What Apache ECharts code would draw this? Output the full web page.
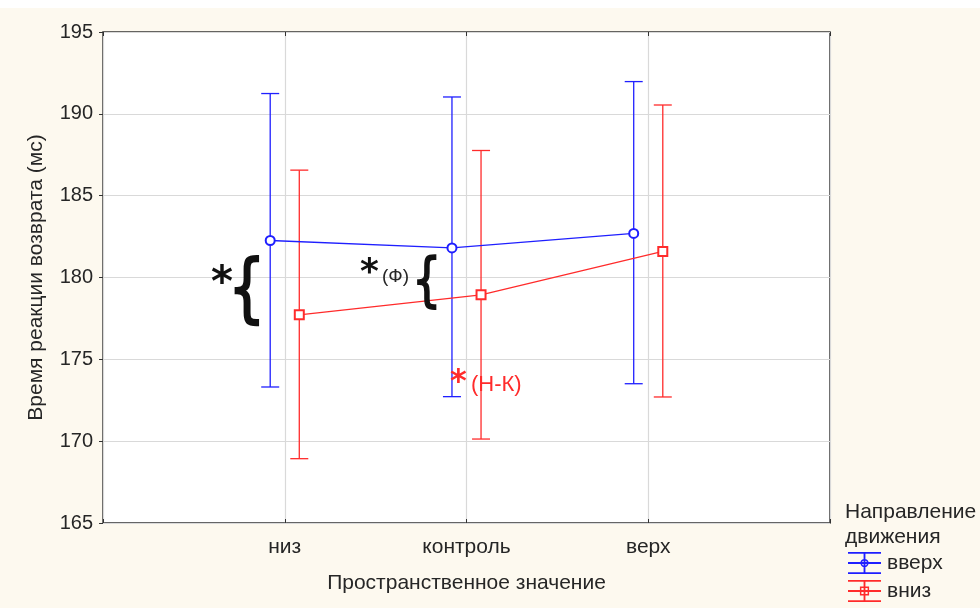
<!DOCTYPE html>
<html>
<head>
<meta charset="utf-8">
<script src="https://cdn.jsdelivr.net/npm/echarts@6/dist/echarts.min.js"></script>
<style>
  html, body { margin: 0; padding: 0; background: #fdf9ef; }
  #chart { width: 980px; height: 608px; }
</style>
</head>
<body>
<div id="chart"></div>
<script>
// категории по оси X (позиции 1..3 на шкале 0..4)
const categories = ['низ', 'контроль', 'верх'];
const seriesNames = ['вверх', 'вниз'];

// средние и границы доверительных интервалов
const upMean = [182.26, 181.81, 182.69];
const upLow = [173.31, 172.72, 173.51];
const upHigh = [191.24, 191.03, 191.97];

const downMean = [177.72, 178.94, 181.59];
const downLow = [168.93, 170.13, 172.7];
const downHigh = [186.56, 187.76, 190.54];

const BLUE = '#1f1fff';
const RED = '#ff2b2b';
const TXT = '#262626';
const OFFSET = 0.08;  // смещение серий от центра категории

const chart = echarts.init(document.getElementById('chart'));

const toLine = (mean, shift) => mean.map((v, i) => [i + 1 + shift, v]);
const toBars = (low, high, shift) => low.map((v, i) => [i + 1 + shift, v, high[i]]);

function renderErrBar(params, api) {
    const x = api.value(0);
    const top = api.coord([x, api.value(2)]);
    const bot = api.coord([x, api.value(1)]);
    const hw = 9;
    const style = { stroke: api.visual('color'), lineWidth: 1.3 };
    return {
        type: 'group',
        children: [
            { type: 'line', shape: { x1: top[0], y1: top[1], x2: bot[0], y2: bot[1] }, style },
            { type: 'line', shape: { x1: top[0] - hw, y1: top[1], x2: top[0] + hw, y2: top[1] }, style },
            { type: 'line', shape: { x1: bot[0] - hw, y1: bot[1], x2: bot[0] + hw, y2: bot[1] }, style }
        ]
    };
}

// значки легенды: три горизонтальные линии, вертикаль и маркер
const iconBase = 'path://M0,0H36V2H0Z M0,11H36V13H0Z M0,22H36V24H0Z M17,0H19V24H17Z ';
const iconCircle = iconBase + 'M22.5,12A4.5,4.5 0 1,1 13.5,12A4.5,4.5 0 1,1 22.5,12Z M20.8,12A2.8,2.8 0 1,0 15.2,12A2.8,2.8 0 1,0 20.8,12Z';
const iconSquare = iconBase + 'M13,7H23V17H13Z M14.6,8.6V15.4H21.4V8.6Z';

const font = 'Liberation Sans';

const option = {
    backgroundColor: '#fdf9ef',
    animation: false,
    textStyle: { fontFamily: font },
    grid: {
        left: 103, right: 150, top: 32, bottom: 85,
        show: true,
        backgroundColor: '#ffffff',
        borderColor: '#333',
        borderWidth: 1.5
    },
    legend: {
        orient: 'vertical',
        left: 848,
        top: 552,
        padding: 0,
        itemWidth: 35,
        itemHeight: 22,
        itemGap: 6,
        textStyle: { fontSize: 21, color: TXT, fontFamily: font },
        data: [
            { name: seriesNames[0], icon: iconCircle },
            { name: seriesNames[1], icon: iconSquare }
        ]
    },
    xAxis: [{
        type: 'value',
        min: 0, max: 4, interval: 1,
        name: 'Пространственное значение',
        nameLocation: 'middle',
        nameGap: 50,
        nameTextStyle: { fontSize: 21, color: TXT },
        axisLine: { show: false },
        axisTick: { inside: true, length: 4, lineStyle: { color: '#333' } },
        axisLabel: {
            fontSize: 21, color: TXT, margin: 14,
            formatter: v => categories[v - 1] || ''
        },
        splitLine: { show: true, lineStyle: { color: '#d9d9d9', width: 1.2 } }
    }, {
        type: 'value', position: 'top',
        min: 0, max: 4, interval: 1,
        axisLine: { show: false },
        axisTick: { inside: true, length: 4, lineStyle: { color: '#333' } },
        axisLabel: { show: false },
        splitLine: { show: false }
    }],
    yAxis: [{
        type: 'value',
        min: 165, max: 195, interval: 5,
        name: 'Время реакции возврата (мс)',
        nameLocation: 'middle',
        nameGap: 56,
        nameTextStyle: { fontSize: 21, color: TXT },
        axisLine: { show: false },
        axisTick: { show: false },
        axisLabel: { fontSize: 20, color: TXT, margin: 10 },
        splitLine: { show: true, lineStyle: { color: '#d9d9d9', width: 1.2 } }
    }, {
        type: 'value', position: 'right',
        min: 165, max: 195, interval: 5,
        axisLine: { show: false },
        axisTick: { inside: true, length: 4, lineStyle: { color: '#333' } },
        axisLabel: { show: false },
        splitLine: { show: false }
    }],
    series: [
        {
            name: seriesNames[0], type: 'custom',
            renderItem: renderErrBar, itemStyle: { color: BLUE },
            data: toBars(upLow, upHigh, -OFFSET), z: 2
        },
        {
            name: seriesNames[1], type: 'custom',
            renderItem: renderErrBar, itemStyle: { color: RED },
            data: toBars(downLow, downHigh, OFFSET), z: 2
        },
        {
            name: seriesNames[0], type: 'line',
            data: toLine(upMean, -OFFSET),
            symbol: 'emptyCircle', symbolSize: 9,
            itemStyle: { color: BLUE, borderWidth: 1.6 },
            lineStyle: { color: BLUE, width: 1.3 }, z: 3
        },
        {
            name: seriesNames[1], type: 'line',
            data: toLine(downMean, OFFSET),
            symbol: 'emptyRect', symbolSize: 9,
            itemStyle: { color: RED, borderWidth: 1.4 },
            lineStyle: { color: RED, width: 1.3 }, z: 3
        }
    ],
    graphic: [
        { type: 'rect', left: 0, top: 0, shape: { width: 980, height: 8 }, style: { fill: '#ffffff' }, silent: true },
        // заголовок легенды
        { type: 'text', left: 845, top: 500, style: { text: 'Направление\nдвижения', font: '21px "Liberation Sans"', fill: TXT, lineHeight: 25 } },
        // пометки значимости
        { type: 'text', left: 211, top: 264, style: { text: '*', font: 'bold 42px "DejaVu Sans"', fill: '#111' }, z: 10 },
        { type: 'text', x: 228, y: 257, scaleX: 0.8, style: { text: '{', font: '74px "DejaVu Sans"', fill: '#111', stroke: '#111', lineWidth: 2 }, z: 10 },
        { type: 'text', left: 360, top: 256, style: { text: '*', font: 'bold 36px "DejaVu Sans"', fill: '#111' }, z: 10 },
        { type: 'text', left: 382, top: 267, style: { text: '(Ф)', font: '19px "Liberation Sans"', fill: TXT }, z: 10 },
        { type: 'text', x: 412, y: 256, scaleX: 0.8, style: { text: '{', font: '58px "DejaVu Sans"', fill: '#111', stroke: '#111', lineWidth: 1.6 }, z: 10 },
        { type: 'text', left: 450, top: 367, style: { text: '*', font: 'bold 32px "DejaVu Sans"', fill: RED }, z: 10 },
        { type: 'text', left: 471, top: 374, style: { text: '(Н-К)', font: '22px "Liberation Sans"', fill: RED }, z: 10 }
    ]
};

chart.setOption(option);
</script>
</body>
</html>
